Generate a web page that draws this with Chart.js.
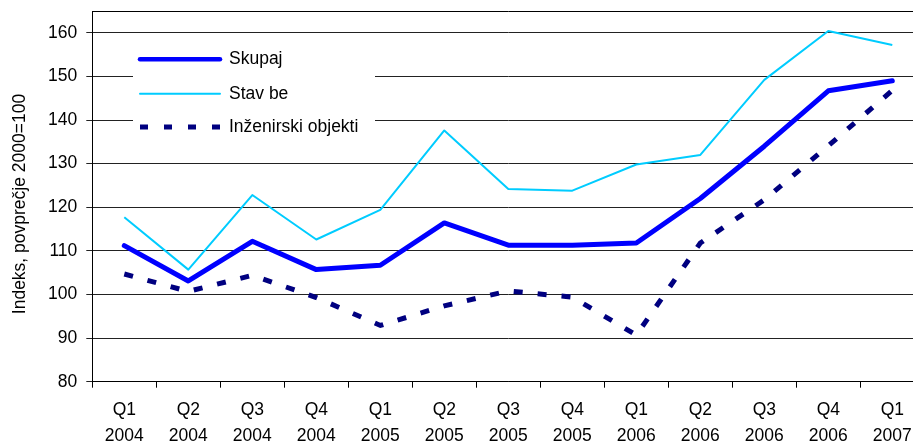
<!DOCTYPE html>
<html>
<head>
<meta charset="utf-8">
<script src="https://cdn.jsdelivr.net/npm/chart.js@4/dist/chart.umd.min.js"></script>
<style>
  html, body { margin: 0; padding: 0; background: #fff; overflow: hidden; }
  canvas { display: block; }
</style>
</head>
<body>
<canvas id="c" width="930" height="445"></canvas>
<script>
// Quarterly construction index, 2000 = 100
const quarters = ['Q1', 'Q2', 'Q3', 'Q4', 'Q1', 'Q2', 'Q3', 'Q4', 'Q1', 'Q2', 'Q3', 'Q4', 'Q1'];
const years = ['2004', '2004', '2004', '2004', '2005', '2005', '2005', '2005', '2006', '2006', '2006', '2006', '2007'];
const skupaj = [111.2, 103.1, 112.2, 105.7, 106.7, 116.4, 111.3, 111.3, 111.8, 122.0, 134.0, 146.7, 149.0];
const stavbe = [117.7, 105.7, 122.8, 112.6, 119.4, 137.6, 124.2, 123.8, 129.8, 132.0, 149.2, 160.4, 157.2];
const inzenirski = [104.7, 100.7, 104.4, 99.3, 92.9, 97.4, 100.8, 99.4, 90.7, 111.8, 121.7, 134.1, 146.8];
const yTicks = [80, 90, 100, 110, 120, 130, 140, 150, 160];
const seriesNames = ['Skupaj', 'Stav be', 'Inženirski objekti'];
const axisTitle = 'Indeks, povprečje 2000=100';

const labels = quarters.map((q, i) => [q, years[i]]);
const FONT = 'Arial, "Liberation Sans", sans-serif';
const FS = 17.5;

const colors = ['#0000ff', '#00ccff', '#000080'];

// Legend box inside the plot, plus rotated axis title and top frame line
const extras = {
  id: 'extras',
  beforeDatasetsDraw(chart) {
    const ctx = chart.ctx;
    const a = chart.chartArea;
    ctx.save();
    // top frame line
    ctx.strokeStyle = '#000';
    ctx.lineWidth = 1;
    ctx.beginPath();
    ctx.moveTo(a.left, a.top + 0.5);
    ctx.lineTo(a.right, a.top + 0.5);
    ctx.stroke();
    // legend
    ctx.fillStyle = '#fff';
    ctx.fillRect(133, 40, 242, 108);
    const rows = [59.3, 93.7, 127];
    const widths = [4.5, 2, 5];
    const dashes = [[], [], [8, 16]];
    rows.forEach((y, i) => {
      ctx.strokeStyle = colors[i];
      ctx.lineWidth = widths[i];
      ctx.setLineDash(dashes[i]);
      ctx.lineCap = i === 2 ? 'butt' : 'round';
      ctx.beginPath();
      ctx.moveTo(140, y);
      ctx.lineTo(220, y);
      ctx.stroke();
      ctx.setLineDash([]);
      ctx.fillStyle = '#000';
      ctx.font = FS + 'px ' + FONT;
      ctx.textAlign = 'left';
      ctx.textBaseline = 'middle';
      ctx.fillText(seriesNames[i], 229, y);
    });
    // y axis title
    ctx.translate(20, 204);
    ctx.rotate(-Math.PI / 2);
    ctx.textAlign = 'center';
    ctx.textBaseline = 'middle';
    ctx.fillStyle = '#000';
    ctx.font = FS + 'px ' + FONT;
    ctx.fillText(axisTitle, 0, 0);
    ctx.restore();
  }
};

new Chart(document.getElementById('c'), {
  type: 'line',
  data: {
    labels: labels,
    datasets: [
      {
        label: seriesNames[1], data: stavbe, borderColor: colors[1], borderWidth: 2,
        pointRadius: 0, tension: 0, borderJoinStyle: 'round', fill: false
      },
      {
        label: seriesNames[2], data: inzenirski, borderColor: colors[2], borderWidth: 5,
        borderDash: [9, 15], borderCapStyle: 'butt',
        pointRadius: 0, tension: 0, fill: false
      },
      {
        label: seriesNames[0], data: skupaj, borderColor: colors[0], borderWidth: 5,
        pointRadius: 0, tension: 0, borderJoinStyle: 'round', borderCapStyle: 'round', fill: false
      }
    ]
  },
  options: {
    responsive: false,
    animation: false,
    events: [],
    layout: { padding: { top: 11, right: 5.7, bottom: 0, left: 0 } },
    plugins: { legend: { display: false }, tooltip: { enabled: false } },
    scales: {
      x: {
        offset: true,
        grid: { offset: true, drawOnChartArea: false, drawTicks: true, tickLength: 6, color: '#000' },
        border: { color: '#000', width: 1 },
        ticks: {
          color: '#000', padding: 9.3, maxRotation: 0, autoSkip: false,
          font: { family: FONT, size: FS, lineHeight: 1.486 }
        },
        afterFit(scale) {
          scale.height = 63.3;
          scale.paddingLeft = 0; scale.paddingRight = 0;
        }
      },
      y: {
        min: 80, max: 165,
        afterBuildTicks(scale) { scale.ticks = yTicks.map(v => ({ value: v })); },
        grid: { color: '#222', lineWidth: 1, tickLength: 6, drawTicks: true },
        border: { color: '#000', width: 1 },
        ticks: {
          color: '#000', padding: 9,
          font: { family: FONT, size: FS }
        },
        afterFit(scale) {
          scale.width = 92.3;
          scale.paddingTop = 0; scale.paddingBottom = 0;
        }
      }
    }
  },
  plugins: [extras]
});
</script>
</body>
</html>
